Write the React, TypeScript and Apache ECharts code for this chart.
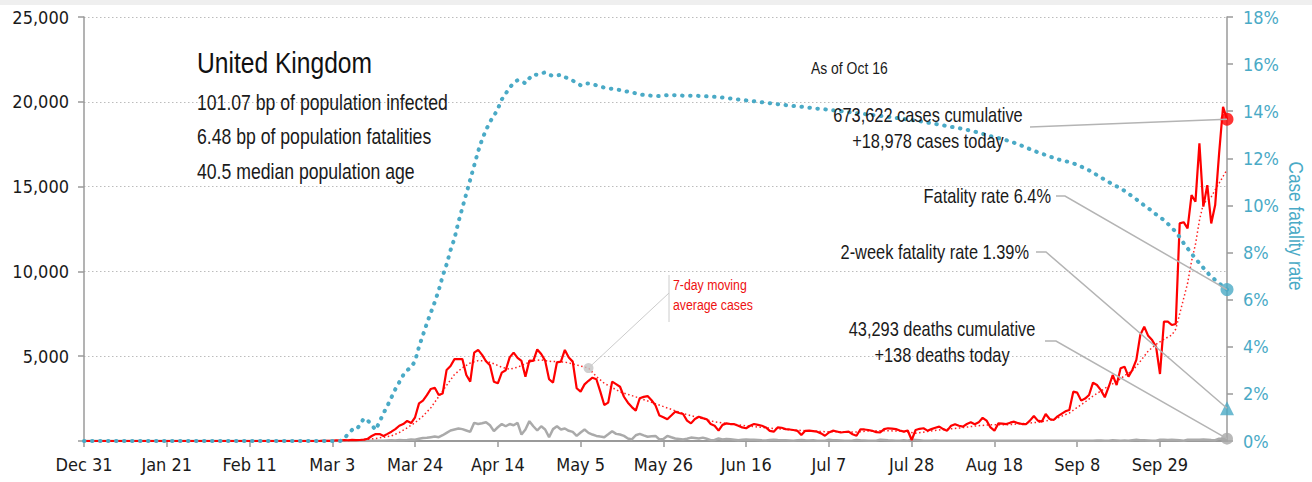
import React, { useEffect, useRef } from 'react';
import * as echarts from 'echarts';

const FONT_AXIS = "'DejaVu Sans Condensed', 'Liberation Sans', sans-serif";
const FONT_TEXT = "'Liberation Sans', Arial, sans-serif";
const NARROW = 0.82;
const RED = '#ff0000';
const BLUE = '#4aaac6';
const GRAY = '#aaaaaa';
const LEADER = '#b4b4b4';
const TEXT = '#1a1a1a';

const MONTHS = ['Jan', 'Feb', 'Mar', 'Apr', 'May', 'Jun', 'Jul', 'Aug', 'Sep', 'Oct', 'Nov', 'Dec'];
const DAY_COUNT = 291; // Dec 31, 2019 .. Oct 16, 2020
const DATES: string[] = [];
for (let i = 0; i < DAY_COUNT; i++) {
  const d = new Date(Date.UTC(2019, 11, 31 + i));
  DATES.push(`${MONTHS[d.getUTCMonth()]} ${d.getUTCDate()}`);
}

const TICK_LABELS = ['Dec 31', 'Jan 21', 'Feb 11', 'Mar 3', 'Mar 24', 'Apr 14', 'May 5', 'May 26', 'Jun 16', 'Jul 7', 'Jul 28', 'Aug 18', 'Sep 8', 'Sep 29'];

// daily new cases
const CASES = [
  0, 0, 0, 0, 0, 0, 0, 0, 0, 0, 0, 0, 0, 0, 0, 0, 0, 0, 0, 0,
  0, 0, 0, 0, 0, 0, 0, 0, 0, 0, 0, 0, 0, 0, 0, 0, 0, 0, 0, 0,
  0, 0, 0, 0, 0, 0, 0, 0, 0, 0, 0, 0, 0, 0, 0, 0, 0, 0, 0, 0,
  5, 12, 4, 11, 34, 30, 48, 43, 67, 48,
  60, 85, 134, 295, 410, 410, 295, 420, 550, 700,
  900, 1000, 1180, 1060, 1400, 2220, 2380, 2700, 3070, 3140,
  2710, 2800, 4190, 4420, 4830, 4830, 4830, 3890, 3500, 5210,
  5370, 5080, 4700, 4460, 3500, 3400, 4030, 4170, 4930, 5210,
  4900, 4720, 3790, 4740, 4720, 5400, 5130, 4740, 3640, 3440,
  4640, 4680, 5370, 4920, 4680, 3110, 2910, 3340, 3550, 3730,
  3640, 2910, 2120, 2260, 3500, 3350, 3200, 2610, 2260, 2000,
  1790, 2520, 2600, 2650, 2400, 2100, 1500, 1400, 1280, 1500,
  1730, 1650, 1590, 1200, 1040, 1300, 1430, 1350, 1280, 1000,
  900, 610, 950, 1040, 1000, 990, 900, 800, 750, 900,
  1000, 950, 900, 800, 600, 550, 800, 780, 700, 680,
  650, 600, 350, 600, 610, 580, 550, 450, 310, 500,
  610, 560, 500, 530, 550, 400, 310, 690, 680, 650,
  600, 520, 500, 700, 750, 730, 700, 620, 550, 620,
  60, 650, 720, 750, 610, 700, 780, 850, 700, 610,
  900, 990, 900, 850, 1000, 1100, 990, 1100, 1370, 1200,
  800, 610, 1040, 1020, 1000, 1080, 1140, 1050, 1000, 990,
  1200, 1470, 1200, 1140, 1590, 1300, 1240, 1450, 1600, 1750,
  1830, 2910, 2850, 2380, 2500, 2710, 3440, 3300, 3000, 2580,
  3200, 3890, 3300, 4290, 4380, 3790, 4200, 4780, 6250, 6740,
  6200, 5950, 5560, 3950, 7040, 7040, 6840, 6900, 12830, 12900,
  12540, 14500, 14110, 17550, 13820, 15090, 12830, 13910, 16960, 19710,
  18978,
];

// daily new deaths
const DEATHS = [
  0, 0, 0, 0, 0, 0, 0, 0, 0, 0, 0, 0, 0, 0, 0, 0, 0, 0, 0, 0,
  0, 0, 0, 0, 0, 0, 0, 0, 0, 0, 0, 0, 0, 0, 0, 0, 0, 0, 0, 0,
  0, 0, 0, 0, 0, 0, 0, 0, 0, 0, 0, 0, 0, 0, 0, 0, 0, 0, 0, 0,
  0, 0, 0, 0, 0, 1, 0, 1, 1, 2,
  1, 2, 1, 10, 14, 20, 16, 33, 40, 33,
  56, 48, 54, 87, 80, 130, 180, 190, 225, 260,
  225, 340, 480, 620, 680, 740, 700, 620, 540, 1070,
  1000, 1050, 1110, 930, 580, 810, 1000, 870, 1000, 930,
  1070, 380, 680, 1170, 870, 620, 870, 680, 225, 700,
  870, 680, 740, 600, 540, 300, 500, 680, 480, 380,
  300, 260, 225, 400, 580, 420, 380, 300, 150, 90,
  340, 420, 330, 250, 280, 300, 90, 120, 300, 220,
  150, 120, 90, 130, 200, 180, 150, 200, 130, 50,
  60, 150, 90, 120, 100, 80, 40, 70, 90, 80,
  70, 60, 40, 30, 60, 80, 60, 50, 40, 30,
  20, 50, 60, 40, 30, 40, 20, 10, 20, 70,
  50, 40, 30, 20, 10, 30, 60, 40, 30, 20,
  10, 20, 80, 60, 40, 30, 10, 10, 40, 20,
  80, 60, 40, 20, 10, 20, 30, 20, 20, 10,
  10, 20, 20, 10, 20, 10, 10, 20, 10, 20,
  10, 10, 20, 10, 10, 10, 10, 20, 10, 10,
  10, 10, 10, 10, 10, 10, 10, 10, 10, 10,
  20, 10, 10, 20, 10, 20, 20, 30, 30, 10,
  20, 40, 30, 20, 30, 10, 40, 70, 40, 40,
  30, 20, 10, 70, 70, 60, 70, 60, 40, 20,
  70, 80, 70, 80, 90, 80, 60, 50, 140, 140,
  138,
];

// case fatality rate, %
const FATALITY = [
  0, 0, 0, 0, 0, 0, 0, 0, 0, 0, 0, 0, 0, 0, 0, 0, 0, 0, 0, 0,
  0, 0, 0, 0, 0, 0, 0, 0, 0, 0, 0, 0, 0, 0, 0, 0, 0, 0, 0, 0,
  0, 0, 0, 0, 0, 0, 0, 0, 0, 0, 0, 0, 0, 0, 0, 0, 0, 0, 0, 0,
  0, 0, 0, 0, 0, 0, 0.1, 0.3, 0.47, 0.47,
  0.68, 0.96, 0.87, 0.68, 0.47, 0.82, 1.18, 1.5, 1.85, 2.2,
  2.5, 2.8, 3.01, 3.12, 3.4, 4.0, 4.5, 5.0, 5.45, 5.9,
  6.4, 7.0, 7.5, 8.1, 8.6, 9.3, 9.9, 10.5, 11.1, 11.7,
  12.3, 12.8, 13.2, 13.55, 13.8, 14.1, 14.5, 14.75, 15.0, 15.2,
  15.32, 15.28, 15.18, 15.4, 15.56, 15.55, 15.6, 15.65, 15.55, 15.5,
  15.52, 15.55, 15.45, 15.38, 15.3, 15.2, 15.1, 15.18, 15.18, 15.15,
  15.1, 15.05, 15.0, 14.97, 14.95, 14.92, 14.9, 14.86, 14.83, 14.8,
  14.76, 14.72, 14.69, 14.67, 14.66, 14.65, 14.64, 14.66, 14.68, 14.69,
  14.68, 14.67, 14.66, 14.66, 14.66, 14.66, 14.65, 14.64, 14.63, 14.62,
  14.61, 14.6, 14.58, 14.56, 14.54, 14.52, 14.5, 14.48, 14.46, 14.44,
  14.42, 14.4, 14.38, 14.36, 14.34, 14.32, 14.3, 14.28, 14.26, 14.24,
  14.22, 14.2, 14.19, 14.17, 14.15, 14.13, 14.11, 14.1, 14.08, 14.06,
  14.04, 14.02, 14.0, 13.98, 13.96, 13.94, 13.92, 13.9, 13.88, 13.86,
  13.84, 13.82, 13.8, 13.78, 13.76, 13.74, 13.72, 13.69, 13.67, 13.65,
  13.63, 13.6, 13.58, 13.55, 13.52, 13.49, 13.46, 13.43, 13.4, 13.37,
  13.34, 13.31, 13.28, 13.25, 13.21, 13.17, 13.13, 13.09, 13.04, 12.99,
  12.94, 12.9, 12.86, 12.82, 12.77, 12.72, 12.66, 12.6, 12.53, 12.46,
  12.39, 12.32, 12.26, 12.2, 12.14, 12.08, 12.02, 11.96, 11.92, 11.88,
  11.84, 11.79, 11.72, 11.65, 11.57, 11.49, 11.39, 11.29, 11.19, 11.09,
  10.99, 10.9, 10.81, 10.72, 10.62, 10.5, 10.38, 10.26, 10.13, 10.0,
  9.88, 9.76, 9.62, 9.5, 9.38, 9.22, 9.05, 8.88, 8.65, 8.4,
  8.18, 7.96, 7.74, 7.55, 7.35, 7.15, 6.98, 6.84, 6.7, 6.56,
  6.43,
];

// 7-day moving average of cases, read at [day index, value]
const MOVING_AVG: [number, number][] = [
  [0, 0], [62, 0], [66, 30], [70, 50], [74, 150], [78, 300], [80, 500], [82, 780], [84, 1080],
  [86, 1470], [88, 1960], [90, 2620], [92, 3280], [94, 3920], [96, 4320], [98, 4600], [100, 4740],
  [102, 4720], [104, 4550], [106, 4350], [108, 4230], [110, 4350], [112, 4550], [114, 4740],
  [116, 4780], [118, 4700], [120, 4680], [122, 4650], [124, 4550], [126, 4420], [128, 4300],
  [130, 3800], [132, 3400], [134, 3150], [136, 2900], [138, 2750], [140, 2600], [144, 2280],
  [148, 1950], [152, 1620], [156, 1370], [160, 1130], [164, 1000], [168, 900], [172, 800],
  [176, 720], [180, 650], [184, 590], [188, 550], [192, 550], [196, 530], [200, 610], [204, 610],
  [208, 560], [211, 460], [214, 560], [218, 680], [222, 760], [226, 880], [230, 960], [234, 950],
  [238, 1030], [242, 1100], [246, 1260], [250, 1650], [252, 1980], [254, 2300], [256, 2650],
  [258, 2950], [260, 3250], [262, 3500], [264, 3850], [266, 4150], [268, 4700], [270, 5300],
  [272, 5700], [274, 6000], [276, 6250], [277, 6600], [278, 7500], [279, 8400], [280, 9300],
  [281, 10600], [282, 11600], [283, 13000], [284, 14000], [285, 14200], [286, 14400],
  [287, 14800], [288, 15200], [289, 15600], [290, 16000],
];

const LAST = DAY_COUNT - 1;
const TWO_WEEK_RATE = 1.39;
const MA_LABEL_DAY = 128;

const TITLE = 'United Kingdom';
const SUBTITLES = ['101.07 bp of population infected', '6.48 bp of population fatalities', '40.5 median population age'];

export default function App() {
  const ref = useRef<HTMLDivElement>(null);

  useEffect(() => {
    document.body.style.margin = '0';
    const chart = echarts.init(ref.current!, null, { renderer: 'svg' });
    const maAtLabel = MOVING_AVG.find((p) => p[0] === MA_LABEL_DAY)![1];

    const option: any = {
      animation: false,
      backgroundColor: '#ffffff',
      textStyle: { fontFamily: FONT_AXIS },
      grid: { left: 84, right: 85, top: 17, bottom: 41, containLabel: false },
      xAxis: {
        type: 'category',
        data: DATES,
        boundaryGap: false,
        axisLine: { lineStyle: { color: '#9a9a9a', width: 2 } },
        axisTick: {
          interval: (_i: number, v: string) => TICK_LABELS.includes(v),
          length: 6,
          lineStyle: { color: '#9a9a9a', width: 1.5 },
        },
        axisLabel: {
          interval: (_i: number, v: string) => TICK_LABELS.includes(v),
          color: TEXT,
          fontSize: 18,
          fontFamily: FONT_AXIS,
          margin: 14,
        },
        splitLine: { show: false },
      },
      yAxis: [
        {
          type: 'value',
          min: 0,
          max: 25000,
          interval: 5000,
          axisLine: { show: true, lineStyle: { color: '#9a9a9a', width: 1.5 } },
          axisTick: { show: true, length: 6, lineStyle: { color: '#9a9a9a', width: 1.5 } },
          axisLabel: {
            color: TEXT,
            fontSize: 18,
            fontFamily: FONT_AXIS,
            margin: 15,
            formatter: (v: number) => (v === 0 ? '' : v.toLocaleString('en-US')),
          },
          splitLine: { show: true, lineStyle: { color: '#bcbcbc', type: [1.5, 2.5], width: 1 } },
        },
        {
          type: 'value',
          position: 'right',
          min: 0,
          max: 18,
          interval: 2,
          axisLine: { show: true, lineStyle: { color: '#9a9a9a', width: 1.5 } },
          axisTick: { show: true, length: 6, lineStyle: { color: '#9a9a9a', width: 1.5 } },
          axisLabel: { color: BLUE, fontSize: 18, fontFamily: FONT_AXIS, margin: 16, formatter: '{value}%' },
          splitLine: { show: false },
        },
      ],
      series: [
        {
          name: 'Deaths',
          type: 'line',
          data: DEATHS,
          yAxisIndex: 0,
          symbol: 'none',
          lineStyle: { color: GRAY, width: 2.5 },
          z: 2,
          silent: true,
        },
        {
          name: '7-day moving average cases',
          type: 'line',
          data: MOVING_AVG,
          yAxisIndex: 0,
          symbol: 'none',
          lineStyle: { color: '#ff2020', width: 1.5, type: [1.5, 2.5] },
          z: 3,
          silent: true,
        },
        {
          name: 'Cases',
          type: 'line',
          data: CASES,
          yAxisIndex: 0,
          symbol: 'none',
          lineStyle: { color: RED, width: 2.2 },
          z: 4,
          silent: true,
        },
        {
          name: 'Case fatality rate',
          type: 'line',
          data: FATALITY,
          yAxisIndex: 1,
          symbol: 'none',
          lineStyle: { color: BLUE, width: 4, type: [0.5, 7.5], cap: 'round' },
          z: 5,
          silent: true,
        },
        {
          name: 'endpoints-left',
          type: 'scatter',
          yAxisIndex: 0,
          clip: false,
          silent: true,
          z: 6,
          data: [
            { value: [LAST, CASES[LAST]], symbol: 'circle', symbolSize: 13, itemStyle: { color: RED } },
            { value: [LAST, DEATHS[LAST]], symbol: 'circle', symbolSize: 12, itemStyle: { color: '#a8a8a8' } },
            { value: [MA_LABEL_DAY, maAtLabel], symbol: 'circle', symbolSize: 10, itemStyle: { color: '#c4c4c4' } },
          ],
        },
        {
          name: 'endpoints-right',
          type: 'scatter',
          yAxisIndex: 1,
          clip: false,
          silent: true,
          z: 6,
          data: [
            { value: [LAST, FATALITY[LAST]], symbol: 'circle', symbolSize: 13, itemStyle: { color: BLUE } },
            { value: [LAST, TWO_WEEK_RATE], symbol: 'triangle', symbolSize: 14, itemStyle: { color: BLUE } },
          ],
        },
      ],
    };

    chart.setOption(option);

    const px = (axis: number, x: number, y: number) =>
      chart.convertToPixel({ xAxisIndex: 0, yAxisIndex: axis }, [x, y]) as number[];
    const casePt = px(0, LAST, CASES[LAST]);
    const deathPt = px(0, LAST, DEATHS[LAST]);
    const ratePt = px(1, LAST, FATALITY[LAST]);
    const twoWeekPt = px(1, LAST, TWO_WEEK_RATE);
    const maPt = px(0, MA_LABEL_DAY, maAtLabel);

    const text = (t: string, x: number, y: number, size: number, align: string, fill = TEXT) => ({
      type: 'text',
      x,
      y,
      scaleX: NARROW,
      z: 20,
      silent: true,
      style: {
        text: t,
        fill,
        fontSize: size,
        fontFamily: FONT_TEXT,
        align,
        textAlign: align,
        verticalAlign: 'middle',
        textVerticalAlign: 'middle',
      },
    });
    const leader = (pts: number[][], color = LEADER, w = 1.5) => ({
      type: 'polyline',
      z: 15,
      silent: true,
      shape: { points: pts },
      style: { stroke: color, lineWidth: w, fill: null },
    });

    const graphic: any[] = [
      { type: 'rect', shape: { x: 0, y: 0, width: 1312, height: 5 }, style: { fill: '#efefef' }, silent: true },
      text(TITLE, 197, 63, 30, 'left', '#111111'),
      text(SUBTITLES[0], 197, 102, 21.5, 'left'),
      text(SUBTITLES[1], 197, 136, 21.5, 'left'),
      text(SUBTITLES[2], 197, 171, 21.5, 'left'),
      text('As of Oct 16', 811, 68, 17, 'left'),
      text('673,622 cases cumulative', 928, 115, 20, 'center'),
      text('+18,978 cases today', 928, 141, 20, 'center'),
      leader([[1030, 127], [casePt[0], casePt[1]]]),
      text('Fatality rate 6.4%', 1051, 196, 20, 'right'),
      leader([[1056, 196], [1065, 196], [ratePt[0], ratePt[1]]]),
      text('2-week fatality rate 1.39%', 1029, 252, 20, 'right'),
      leader([[1036, 252], [1046, 252], [twoWeekPt[0], twoWeekPt[1]]]),
      text('43,293 deaths cumulative', 942, 329, 20, 'center'),
      text('+138 deaths today', 942, 355, 20, 'center'),
      leader([[1045, 341], [1056, 341], [deathPt[0], deathPt[1]]]),
      text('7-day moving', 673, 285, 15, 'left', '#ee1111'),
      text('average cases', 673, 305, 15, 'left', '#ee1111'),
      leader([[669, 275], [669, 322]], '#cccccc', 1),
      leader([[maPt[0], maPt[1]], [669, 293]], '#cccccc', 1),
      {
        type: 'text',
        x: 1296,
        y: 226,
        rotation: -Math.PI / 2,
        scaleX: NARROW,
        z: 20,
        silent: true,
        style: {
          text: 'Case fatality rate',
          fill: BLUE,
          fontSize: 21,
          fontFamily: FONT_TEXT,
          align: 'center',
          textAlign: 'center',
          verticalAlign: 'middle',
          textVerticalAlign: 'middle',
        },
      },
    ];

    chart.setOption({ graphic });

    return () => chart.dispose();
  }, []);

  return (
    <div
      ref={ref}
      style={{ position: 'fixed', left: 0, top: 0, width: 1312, height: 482, background: '#ffffff' }}
    />
  );
}
